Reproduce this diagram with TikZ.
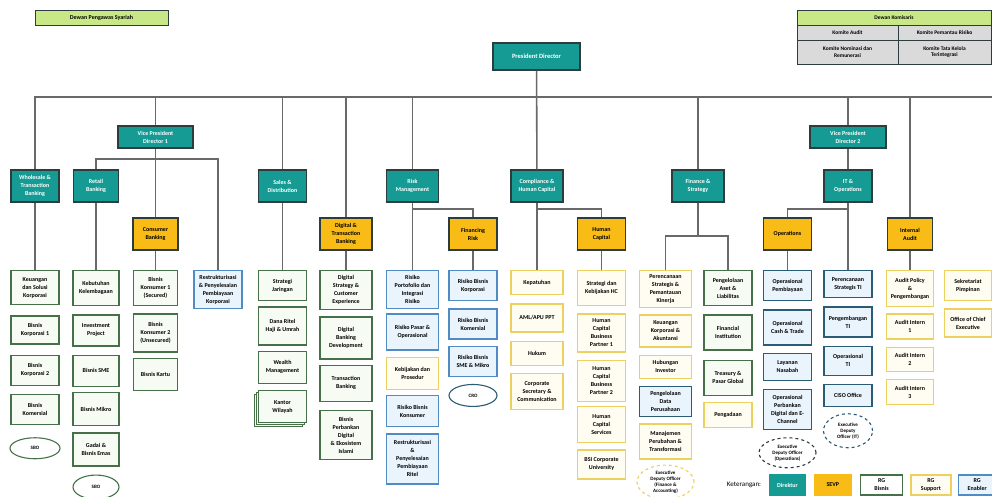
\documentclass[tikz,border=0pt]{standalone}
\usepackage{fontspec}
\setmainfont{Carlito}
\usepackage{tikz}
\usetikzlibrary{shapes.geometric, positioning, calc, shadows}
\definecolor{dirteal}{RGB}{22,155,148}
\definecolor{sevporange}{RGB}{249,187,22}
\definecolor{edge}{RGB}{45,60,60}
\definecolor{bisline}{RGB}{70,112,72}
\definecolor{bisfill}{RGB}{246,251,243}
\definecolor{supline}{RGB}{236,208,96}
\definecolor{supfill}{RGB}{255,253,242}
\definecolor{enaline}{RGB}{80,140,195}
\definecolor{enadark}{RGB}{42,92,118}
\definecolor{enafill}{RGB}{234,244,252}
\definecolor{limegreen}{RGB}{200,232,135}
\definecolor{cellgray}{RGB}{218,218,218}
\definecolor{wire}{RGB}{105,105,105}
\tikzset{
    box/.style={rectangle, line width=1.3pt, minimum width=48pt, inner sep=1.5pt, align=center, font=\fontsize{6}{8}\selectfont\bfseries},
    dir/.style={box, draw=edge, fill=dirteal, text=white, minimum height=32pt},
    sevp/.style={box, draw=edge, fill=sevporange, minimum height=32pt},
    bis/.style={box, draw=bisline, fill=bisfill},
    sup/.style={box, draw=supline, fill=supfill},
    ena/.style={box, draw=enaline, fill=enafill},
    enad/.style={box, draw=enadark, fill=enafill},
    oval/.style={ellipse, line width=1.1pt, inner sep=0pt, align=center, fill=white, font=\fontsize{5}{6}\selectfont\bfseries},
    cell/.style={box, draw=edge, fill=cellgray, line width=0.8pt, font=\fontsize{5.5}{6.5}\selectfont\bfseries},
    wide/.style={minimum width=52pt},
    link/.style={draw=wire, line width=1.6pt}
}

\begin{document}
\begin{tikzpicture}[x=1pt, y=-1pt]
    \useasboundingbox (0,0) rectangle (992,496);
    \coordinate (top) at (0,270);

    % dewan
    \node (dps) [box, draw=edge, fill=limegreen, line width=1pt, minimum width=133pt, minimum height=15pt, font=\fontsize{6}{7}\selectfont\bfseries] at (101.5,17.5) {Dewan Pengawas Syariah};
    \node (dk) [cell, fill=limegreen, minimum width=194pt, minimum height=15pt] at (894,17.5) {Dewan Komisaris};
    \node (ka) [cell, minimum width=101pt, minimum height=15pt] at (847.5,32.5) {Komite Audit};
    \node (kp) [cell, minimum width=93pt, minimum height=15pt] at (944.5,32.5) {Komite Pemantau Risiko};
    \node (kn) [cell, minimum width=101pt, minimum height=24pt] at (847.5,52) {Komite Nominasi dan\\Remunerasi};
    \node (kt) [cell, minimum width=93pt, minimum height=24pt] at (944.5,52) {Komite Tata Kelola\\Terintegrasi};

    % direksi
    \node (pres) [dir, minimum width=87pt, minimum height=27pt, font=\fontsize{6.5}{8}\selectfont\bfseries] at (536.5,56.5) {President Director};
    \node (vp1) [dir, minimum width=75pt, minimum height=22pt] at (155.5,137) {Vice President\\Director 1};
    \node (vp2) [dir, minimum width=76pt, minimum height=22pt] at (848,137) {Vice President\\Director 2};
    \node (wtb) [dir] at (35,186) {Wholesale \&\\Transaction\\Banking};
    \node (retail) [dir, minimum width=45pt] at (96,186) {Retail\\Banking};
    \node (sales) [dir] at (282.5,186) {Sales \&\\Distribution};
    \node (risk) [dir, wide] at (412.5,186) {Risk\\Management};
    \node (comp) [dir, wide] at (537,186) {Compliance \&\\Human Capital};
    \node (fin) [dir, wide] at (698,186) {Finance \&\\Strategy};
    \node (itops) [dir] at (848,186) {IT \&\\Operations};

    % sevp
    \node (cons) [sevp, minimum width=45pt] at (155.5,234) {Consumer\\Banking};
    \node (digi) [sevp, wide] at (346,234) {Digital \&\\Transaction\\Banking};
    \node (finr) [sevp] at (473,234) {Financing\\Risk};
    \node (hc) [sevp] at (601.5,234) {Human\\Capital};
    \node (ops) [sevp] at (787.5,234) {Operations};
    \node (ia) [sevp, minimum width=45pt] at (910,234) {Internal\\Audit};

    % wholesale
    \node (c1a) [bis, anchor=north, minimum height=34pt] at (wtb |- top) {Keuangan\\dan Solusi\\Korporasi};
    \node (c1b) [bis, below=10pt of c1a, minimum height=28pt] {Bisnis\\Korporasi 1};
    \node (c1c) [bis, below=10pt of c1b, minimum height=30pt] {Bisnis\\Korporasi 2};
    \node (c1d) [bis, below=8pt of c1c, minimum height=30pt] {Bisnis\\Komersial};
    \node (c1e) [oval, draw=bisline, below=12pt of c1d, minimum width=50pt, minimum height=21pt] {SBO};

    % retail
    \node (c2a) [bis, anchor=north, minimum height=35pt, minimum width=46pt] at (retail |- top) {Kebutuhan\\Kelembagaan};
    \node (c2b) [bis, below=8pt of c2a, minimum height=31pt, minimum width=46pt] {Investment\\Project};
    \node (c2c) [bis, below=8pt of c2b, minimum height=31pt, minimum width=46pt] {Bisnis SME};
    \node (c2d) [bis, below=5pt of c2c, minimum height=33pt, minimum width=46pt] {Bisnis Mikro};
    \node (c2e) [bis, below=6pt of c2d, minimum height=33pt, minimum width=46pt] {Gadai \&\\Bisnis Emas};
    \node (c2f) [oval, draw=bisline, below=8pt of c2e, minimum width=46pt, minimum height=24pt] {SBO};

    % consumer
    \node (c3a) [bis, anchor=north, minimum height=35pt, minimum width=44pt] at (cons |- top) {Bisnis\\Konsumer 1\\(Secured)};
    \node (c3b) [bis, below=7pt of c3a, minimum height=38pt, minimum width=44pt] {Bisnis\\Konsumer 2\\(Unsecured)};
    \node (c3c) [bis, below=5pt of c3b, minimum height=32pt, minimum width=44pt] {Bisnis Kartu};

    \node (c4a) [ena, anchor=north, minimum height=38pt] at (218,270) {Restrukturisasi\\\& Penyelesaian\\Pembiayaan\\Korporasi};

    % sales
    \node (c5a) [bis, anchor=north, minimum height=30pt] at (sales |- top) {Strategi\\Jaringan};
    \node (c5b) [bis, below=5pt of c5a, minimum height=38pt] {Dana Ritel\\Haji \& Umrah};
    \node (c5c) [bis, below=5pt of c5b, minimum height=32pt] {Wealth\\Management};
    \node (c5d) [bis, below=6pt of c5c, minimum height=32pt, double copy shadow={shadow xshift=-2pt, shadow yshift=-2pt, draw=bisline, fill=bisfill, line width=1pt}] {Kantor\\Wilayah};

    % digital
    \node (c6a) [bis, wide, anchor=north, minimum height=39pt] at (digi |- top) {Digital\\Strategy \&\\Customer\\Experience};
    \node (c6b) [bis, wide, below=6pt of c6a, minimum height=42pt] {Digital\\Banking\\Development};
    \node (c6c) [bis, wide, below=5pt of c6b, minimum height=36pt] {Transaction\\Banking};
    \node (c6d) [bis, wide, below=8pt of c6c, minimum height=49pt] {Bisnis\\Perbankan\\Digital\\\& Ekosistem\\Islami};

    % risk
    \node (c7a) [ena, wide, anchor=north, minimum height=38pt] at (risk |- top) {Risiko\\Portofolio dan\\Integrasi\\Risiko};
    \node (c7b) [ena, wide, below=4pt of c7a, minimum height=36pt] {Risiko Pasar \&\\Operasional};
    \node (c7c) [sup, wide, below=6pt of c7b, minimum height=32pt] {Kebijakan dan\\Prosedur};
    \node (c7d) [ena, wide, below=5pt of c7c, minimum height=31pt] {Risiko Bisnis\\Konsumer};
    \node (c7e) [ena, wide, below=6pt of c7d, minimum height=50pt] {Restrukturisasi\\\&\\Penyelesaian\\Pembiayaan\\Ritel};

    % financing risk
    \node (c8a) [ena, anchor=north, minimum height=30pt] at (finr |- top) {Risiko Bisnis\\Korporasi};
    \node (c8b) [ena, below=7pt of c8a, minimum height=30pt] {Risiko Bisnis\\Komersial};
    \node (c8c) [ena, below=6pt of c8b, minimum height=30pt] {Risiko Bisnis\\SME \& Mikro};
    \node (c8d) [oval, draw=enadark, below=7pt of c8c, minimum width=48pt, minimum height=22pt] {CRO};

    % compliance
    \node (c9a) [sup, wide, anchor=north, minimum height=24pt] at (comp |- top) {Kepatuhan};
    \node (c9b) [sup, wide, below=8pt of c9a, minimum height=28pt] {AML/APU PPT};
    \node (c9c) [sup, wide, below=8pt of c9b, minimum height=24pt] {Hukum};
    \node (c9d) [sup, wide, below=7pt of c9c, minimum height=36pt] {Corporate\\Secretary \&\\Communication};

    % human capital
    \node (c10a) [sup, anchor=north, minimum height=35pt] at (hc |- top) {Strategi dan\\Kebijakan HC};
    \node (c10b) [sup, below=7pt of c10a, minimum height=38pt] {Human\\Capital\\Business\\Partner 1};
    \node (c10c) [sup, below=7pt of c10b, minimum height=41pt] {Human\\Capital\\Business\\Partner 2};
    \node (c10d) [sup, below=4pt of c10c, minimum height=36pt] {Human\\Capital\\Services};
    \node (c10e) [sup, below=6pt of c10d, minimum height=29pt] {BSI Corporate\\University};

    % finance
    \node (c11a) [sup, wide, anchor=north, minimum height=37pt] at (665.5,270) {Perencanaan\\Strategis \&\\Pemantauan\\Kinerja};
    \node (c11b) [sup, wide, below=6pt of c11a, minimum height=32pt] {Keuangan\\Korporasi \&\\Akuntansi};
    \node (c11c) [sup, wide, below=7pt of c11b, minimum height=23pt] {Hubungan\\Investor};
    \node (c11d) [enad, wide, below=7pt of c11c, minimum height=30pt] {Pengelolaan\\Data\\Perusahaan};
    \node (c11e) [sup, wide, below=6pt of c11d, minimum height=35pt] {Manajemen\\Perubahan \&\\Transformasi};
    \node (c11f) [oval, dashed, draw=supline, below=5pt of c11e, minimum width=57pt, minimum height=34pt] {Executive\\Deputy Officer\\(Finance \&\\Accounting)};

    \node (c12a) [bis, anchor=north, minimum height=35pt] at (728,270) {Pengelolaan\\Aset \&\\Liabilitas};
    \node (c12b) [bis, below=8pt of c12a, minimum height=35pt] {Financial\\Institution};
    \node (c12c) [bis, below=9pt of c12b, minimum height=35pt] {Treasury \&\\Pasar Global};
    \node (c12d) [sup, below=6pt of c12c, minimum height=25pt] {Pengadaan};

    % operations
    \node (c13a) [enad, anchor=north, minimum height=30pt] at (ops |- top) {Operasional\\Pembiayaan};
    \node (c13b) [enad, below=8pt of c13a, minimum height=35pt] {Operasional\\Cash \& Trade};
    \node (c13c) [enad, below=7pt of c13b, minimum height=27pt] {Layanan\\Nasabah};
    \node (c13d) [enad, below=8pt of c13c, minimum height=40pt] {Operasional\\Perbankan\\Digital dan E-\\Channel};
    \node (c13e) [oval, dashed, draw=edge, below=7pt of c13d, minimum width=57pt, minimum height=30pt] {Executive\\Deputy Officer\\(Operations)};

    % it
    \node (c14a) [enad, anchor=north, minimum height=27pt] at (itops |- top) {Perencanaan\\Strategis TI};
    \node (c14b) [enad, below=8pt of c14a, minimum height=30pt] {Pengembangan\\TI};
    \node (c14c) [enad, below=8pt of c14b, minimum height=29pt] {Operasional\\TI};
    \node (c14d) [enad, below=8pt of c14c, minimum height=22pt] {CISO Office};
    \node (c14e) [oval, dashed, draw=enadark, below=6pt of c14d, minimum width=49pt, minimum height=34pt] {Executive\\Deputy\\Officer (IT)};

    % audit
    \node (c15a) [sup, anchor=north, minimum height=36pt, minimum width=47pt] at (ia |- top) {Audit Policy\\\&\\Pengembangan};
    \node (c15b) [sup, below=6pt of c15a, minimum height=25pt, minimum width=47pt] {Audit Intern\\1};
    \node (c15c) [sup, below=7pt of c15b, minimum height=24pt, minimum width=47pt] {Audit Intern\\2};
    \node (c15d) [sup, below=7pt of c15c, minimum height=25pt, minimum width=47pt] {Audit Intern\\3};

    \node (c16a) [sup, anchor=north, minimum height=30pt, minimum width=47pt] at (968,270) {Sekretariat\\Pimpinan};
    \node (c16b) [sup, below=7pt of c16a, minimum height=28pt, minimum width=47pt] {Office of Chief\\Executive};

    % keterangan
    \node (key) [font=\fontsize{7}{8}\selectfont] at (744,485) {Keterangan:};
    \node (kdir) [dir, draw=dirteal, minimum width=35pt, minimum height=20pt] at (787.5,485) {Direktur};
    \node (ksevp) [sevp, draw=sevporange, right=8pt of kdir, minimum width=37pt, minimum height=20pt] {SEVP};
    \node (kbis) [bis, fill=white, right=8pt of ksevp, minimum width=42pt, minimum height=20pt] {RG\\Bisnis};
    \node (ksup) [sup, right=7pt of kbis, minimum width=40pt, minimum height=20pt] {RG\\Support};
    \node (kena) [ena, right=6pt of ksup, minimum width=38pt, minimum height=20pt] {RG\\Enabler};

    % garis
    \coordinate (busR) at (992,97);
    \coordinate (v1bar) at (155.5,159);
    \coordinate (rbar) at (412.5,209);
    \coordinate (cbar) at (537,209);
    \coordinate (fbar) at (698,236);
    \coordinate (ibar) at (848,209);
    \draw [link] (wtb) |- (busR);
    \draw [link] (pres) -- (comp);
    \foreach \n in {vp1, sales, digi, risk, fin, vp2, ia}
        \draw [link] (\n) -- (\n |- busR);
    \draw [link] (vp1) -- (cons);
    \draw [link] (retail) |- (v1bar) -| (c4a);
    \draw [link] (rbar) -| (finr);
    \draw [link] (cbar) -| (hc);
    \draw [link] (fin) -- (fbar);
    \draw [link] (c11a) |- (fbar) -| (c12a);
    \draw [link] (vp2) -- (itops);
    \draw [link] (ibar) -| (ops);
    \foreach \a/\b in {wtb/c1a, retail/c2a, cons/c3a, sales/c5a, digi/c6a, risk/c7a, finr/c8a, comp/c9a, hc/c10a, ops/c13a, itops/c14a, ia/c15a}
        \draw [link] (\a) -- (\b);
\end{tikzpicture}
\end{document}
